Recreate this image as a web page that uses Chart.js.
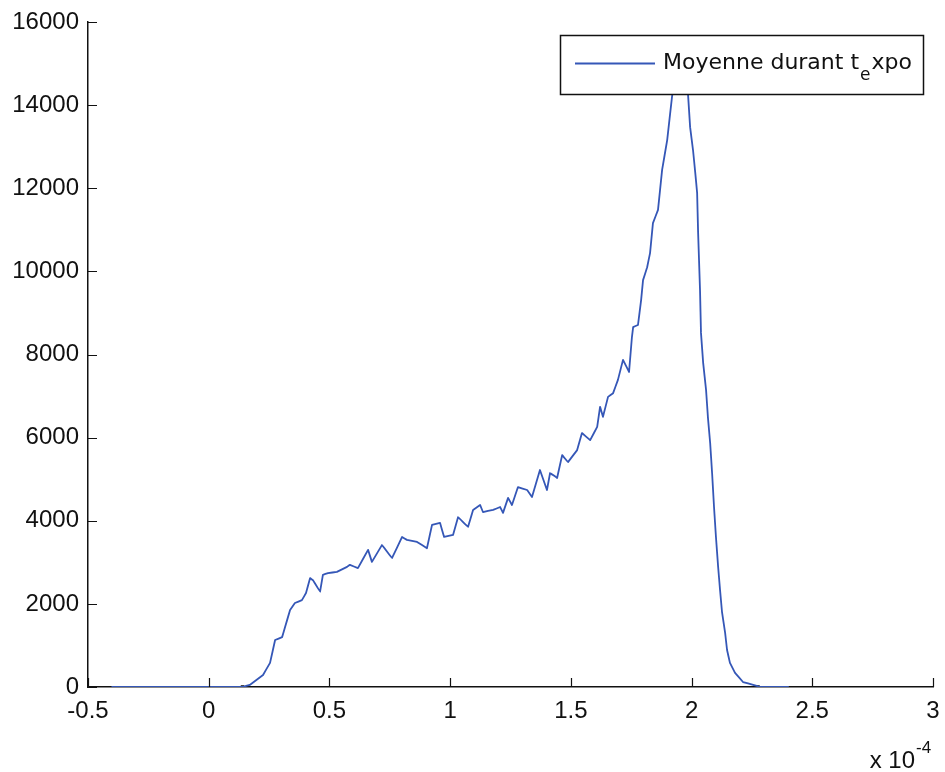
<!DOCTYPE html>
<html>
<head>
<meta charset="utf-8">
<script src="https://cdn.jsdelivr.net/npm/chart.js@4/dist/chart.umd.min.js"></script>
<style>
  body { margin: 0; background: #fff; }
  canvas { display: block; }
</style>
</head>
<body>
<canvas id="myChart" width="945" height="772"></canvas>
<script>
// valeurs (x en unités de 1e-4)
const xValues = [-0.4, 0.14, 0.17, 0.225, 0.254, 0.275, 0.304, 0.316, 0.337, 0.357,
  0.386, 0.403, 0.42, 0.432, 0.461, 0.473, 0.494, 0.531, 0.573, 0.585,
  0.618, 0.66, 0.676, 0.718, 0.759, 0.801, 0.821, 0.863, 0.904, 0.925,
  0.958, 0.975, 1.012, 1.033, 1.074, 1.095, 1.124, 1.136, 1.178, 1.207,
  1.219, 1.24, 1.256, 1.281, 1.319, 1.339, 1.372, 1.401, 1.414, 1.443,
  1.464, 1.488, 1.526, 1.546, 1.58, 1.609, 1.621, 1.633, 1.654, 1.675,
  1.695, 1.716, 1.741, 1.753, 1.758, 1.778, 1.791, 1.799, 1.816, 1.828,
  1.84, 1.861, 1.878, 1.899, 1.919, 1.935, 1.952, 1.97, 1.985, 1.994,
  2.006, 2.015, 2.023, 2.027, 2.035, 2.039, 2.048, 2.06, 2.068, 2.077,
  2.085, 2.093, 2.101, 2.11, 2.118, 2.126, 2.139, 2.147, 2.159, 2.18,
  2.213, 2.255, 2.284, 2.4];
const yValues = [0, 0, 50, 290, 580, 1130, 1200, 1440, 1850, 2020,
  2090, 2260, 2620, 2570, 2290, 2700, 2740, 2770, 2890, 2940,
  2860, 3300, 3010, 3420, 3100, 3610, 3540, 3490, 3340, 3900,
  3950, 3610, 3660, 4090, 3850, 4260, 4380, 4210, 4260, 4330,
  4190, 4550, 4380, 4810, 4740, 4570, 5220, 4740, 5150, 5030,
  5580, 5410, 5700, 6110, 5940, 6260, 6740, 6500, 6980, 7070,
  7390, 7870, 7580, 8420, 8660, 8710, 9310, 9790, 10100, 10440,
  11160, 11480, 12440, 13160, 14200, 14900, 15400, 15100, 14290, 13470,
  12920, 12390, 11890, 10950, 9550, 8520, 7800, 7150, 6470, 5870,
  5150, 4330, 3610, 2890, 2330, 1810, 1300, 890, 580, 340,
  120, 50, 0, 0];
const markerX = [0.14, 2.275];
const markerY = [0, 0];
const xTicks = [-0.5, 0, 0.5, 1, 1.5, 2, 2.5, 3];
const xTickLabels = ["-0.5", "0", "0.5", "1", "1.5", "2", "2.5", "3"];
const yTicks = [0, 2000, 4000, 6000, 8000, 10000, 12000, 14000, 16000];
const yTickLabels = ["0", "2000", "4000", "6000", "8000", "10000", "12000", "14000", "16000"];
const legendMain = "Moyenne durant t";
const legendSub = "e";
const legendRest = "xpo";
const xExponent = "-4";

const lineColor = "#3557b7";
const tickFont = { family: "'Liberation Sans', Arial, sans-serif", size: 24 };

// petits traits de graduation vers l'intérieur + légende + "x 10^-4"
const decor = {
  id: "decor",
  afterDraw(chart) {
    const ctx = chart.ctx;
    const area = chart.chartArea;
    const xs = chart.scales.x;
    const ys = chart.scales.y;
    ctx.save();
    ctx.strokeStyle = "#111";
    ctx.lineWidth = 1.2;
    ctx.beginPath();
    xTicks.forEach((v) => {
      const px = Math.round(xs.getPixelForValue(v)) + 0.5;
      ctx.moveTo(px, area.bottom);
      ctx.lineTo(px, area.bottom - 9);
    });
    yTicks.forEach((v) => {
      const py = Math.round(ys.getPixelForValue(v)) + 0.5;
      ctx.moveTo(area.left, py);
      ctx.lineTo(area.left + 9, py);
    });
    ctx.stroke();

    // légende
    const bx = 560, by = 35, bw = 363, bh = 59;
    ctx.fillStyle = "#fff";
    ctx.fillRect(bx, by, bw, bh);
    ctx.strokeStyle = "#111";
    ctx.lineWidth = 1.5;
    ctx.strokeRect(bx + 0.5, by + 0.5, bw, bh);
    ctx.strokeStyle = lineColor;
    ctx.lineWidth = 1.8;
    ctx.beginPath();
    ctx.moveTo(575, 63.5);
    ctx.lineTo(655, 63.5);
    ctx.stroke();
    ctx.fillStyle = "#111";
    ctx.textBaseline = "alphabetic";
    ctx.textAlign = "left";
    ctx.font = "22px 'DejaVu Sans'";
    let tx = 663;
    ctx.fillText(legendMain, tx, 69);
    tx += ctx.measureText(legendMain).width;
    ctx.font = "17px 'DejaVu Sans'";
    ctx.fillText(legendSub, tx + 1, 80);
    tx += ctx.measureText(legendSub).width + 2;
    ctx.font = "22px 'DejaVu Sans'";
    ctx.fillText(legendRest, tx, 69);

    // facteur d'échelle de l'axe x
    ctx.font = "24px 'Liberation Sans', Arial";
    ctx.textAlign = "right";
    ctx.fillText("x 10", 915, 768);
    ctx.textAlign = "left";
    ctx.font = "17px 'Liberation Sans', Arial";
    ctx.fillText(xExponent, 916, 753);
    ctx.restore();
  },
};

const ctx = document.getElementById("myChart").getContext("2d");
const myChart = new Chart(ctx, {
  type: "line",
  data: {
    datasets: [
      {
        label: legendMain + legendSub + legendRest,
        data: xValues.map((x, i) => ({ x: x, y: yValues[i] })),
        borderColor: lineColor,
        borderWidth: 1.8,
        borderJoinStyle: "round",
        borderCapStyle: "round",
        pointRadius: 0,
        tension: 0.001, // évite le "fast path" qui fusionne les points d'un même pixel
        fill: false,
      },
      {
        label: "marqueurs",
        data: markerX.map((x, i) => ({ x: x, y: markerY[i] })),
        showLine: false,
        pointStyle: "rect",
        pointRadius: 2.5,
        backgroundColor: "#111",
        borderColor: "#111",
        borderWidth: 0,
      },
    ],
  },
  options: {
    responsive: false,
    animation: false,
    layout: { padding: { top: 22, right: 12, left: 0, bottom: 0 } },
    plugins: { legend: { display: false }, tooltip: { enabled: false } },
    scales: {
      x: {
        type: "linear",
        min: -0.5,
        max: 3,
        afterBuildTicks: (scale) => {
          scale.ticks = xTicks.map((v) => ({ value: v }));
        },
        afterFit: (scale) => {
          scale.height = 85;
          scale.paddingLeft = 0;
          scale.paddingRight = 0;
        },
        grid: { display: false, drawTicks: false },
        border: { display: true, color: "#111", width: 1.5 },
        ticks: {
          autoSkip: false,
          maxRotation: 0,
          padding: 10,
          color: "#111",
          font: tickFont,
          callback: (value, index) => xTickLabels[index],
        },
      },
      y: {
        type: "linear",
        min: 0,
        max: 16000,
        afterBuildTicks: (scale) => {
          scale.ticks = yTicks.map((v) => ({ value: v }));
        },
        afterFit: (scale) => {
          scale.width = 88;
          scale.paddingTop = 0;
          scale.paddingBottom = 0;
        },
        grid: { display: false, drawTicks: false },
        border: { display: true, color: "#111", width: 1.5 },
        ticks: {
          autoSkip: false,
          padding: 9,
          color: "#111",
          font: tickFont,
          callback: (value, index) => yTickLabels[index],
        },
      },
    },
  },
  plugins: [decor],
});
</script>
</body>
</html>
